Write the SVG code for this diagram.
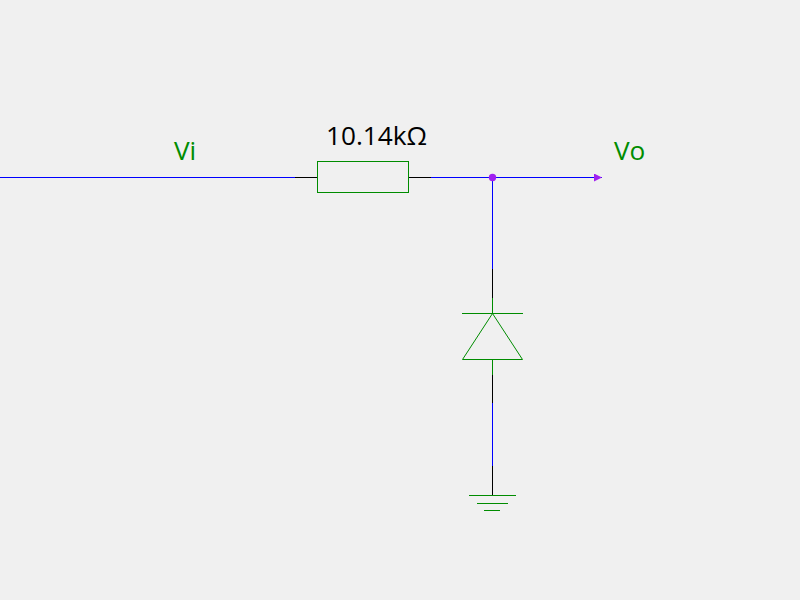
<svg xmlns="http://www.w3.org/2000/svg" width="800" height="600" viewBox="0 0 800 600">
<style>
.w{fill:none;stroke-width:1}
.b{stroke:#0000ff}
.k{stroke:#000000}
.g{fill:none;stroke:#008c00;stroke-width:1}
text{font-family:"Open Sans","Noto Sans",sans-serif;font-size:26.2px}
.lab{fill:#008c00}
.val{fill:#000000}
</style>
<defs>
<marker id="arrow" markerUnits="userSpaceOnUse" markerWidth="8" markerHeight="8" refX="8" refY="4" orient="auto"><path d="M0,0L8,4L0,8Z" fill="#a020f0"/></marker>
</defs>
<rect width="800" height="600" fill="#f0f0f0"/>
<g id="connectors">
<path class="w b" d="M0,177.5H295"/>
<path class="w k" d="M295,177.5H317.5"/>
<path class="w k" d="M408.5,177.5H431"/>
<path class="w b" d="M431,177.5H602" marker-end="url(#arrow)"/>
<path class="w b" d="M492.5,177.5V269"/>
<path class="w k" d="M492.5,269V298"/>
<path class="w k" d="M492.5,375V403"/>
<path class="w b" d="M492.5,403V466"/>
<path class="w k" d="M492.5,466V495"/>
</g>
<g id="resistor">
<rect class="g" x="317.5" y="161.5" width="91" height="31"/>
<text class="val" x="326" y="145">10.14kΩ</text>
</g>
<g id="junction"><circle cx="492.5" cy="177.5" r="3.7" fill="#a020f0"/></g>
<g id="diode">
<path class="g" d="M492.5,298V313.5M462,313.5H523M492.5,313.5L462.5,359.5H522.5ZM492.5,359.5V375"/>
</g>
<g id="ground">
<path class="g" d="M469,495.5H516M477,503.5H508M484,510.5H500"/>
</g>
<g id="vi"><text class="lab" x="174" y="160">Vi</text></g>
<g id="vo"><text class="lab" x="614" y="160">Vo</text></g>
</svg>
